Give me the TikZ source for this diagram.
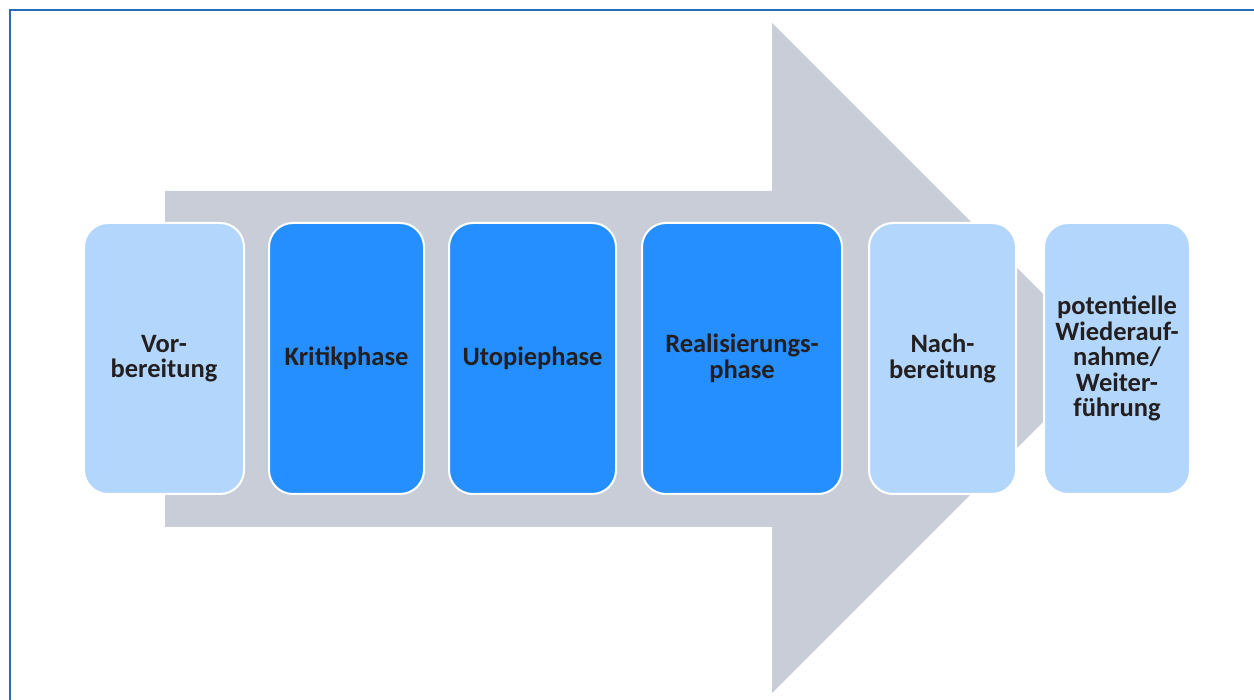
\documentclass[tikz,border=0pt]{standalone}
\usepackage{fontspec}
\setmainfont{Carlito}
\usepackage{tikz}
\usetikzlibrary{shapes,arrows,positioning}

\definecolor{framblue}{HTML}{2B6CB5}
\definecolor{arrowgrey}{HTML}{C9CDD8}
\definecolor{lightphase}{HTML}{B3D7FC}
\definecolor{darkphase}{HTML}{258FFF}
\definecolor{phasetext}{HTML}{231F20}

\tikzset{
  phase/.style={rectangle, rounded corners=24pt, draw=white, line width=2pt,
    minimum height=271pt, align=center, text=phasetext,
    font=\fontsize{26.5}{25.5}\selectfont\bfseries, inner sep=2pt},
  light/.style={phase, fill=lightphase},
  dark/.style={phase, fill=darkphase}
}

\begin{document}
\begin{tikzpicture}[x=1pt,y=-1pt]
\useasboundingbox (0,0) rectangle (1254,700);
\draw[framblue,line width=2pt] (10,700) -- (10,10) -- (1254,10);
% grey arrow behind the phases
\fill[arrowgrey] (165,191) -- (772,191) -- (772,23) -- (1107,358) -- (772,693) -- (772,527) -- (165,527) -- cycle;
\node[light, minimum width=160pt] (vorb) at (164,358.5) {Vor-\\bereitung};
\node[dark, minimum width=155pt] (kritik) at (346.5,358.5) {Kritikphase};
\node[dark, minimum width=167pt] (utopie) at (532.5,358.5) {Utopiephase};
\node[dark, minimum width=200pt] (real) at (742,358.5) {Realisierungs-\\phase};
\node[light, minimum width=147pt] (nachb) at (942.5,358.5) {Nach-\\bereitung};
\node[light, minimum width=146pt] (weiter) at (1117,358.5) {potentielle\\Wiederauf-\\nahme/\\Weiter-\\führung};
\end{tikzpicture}
\end{document}
